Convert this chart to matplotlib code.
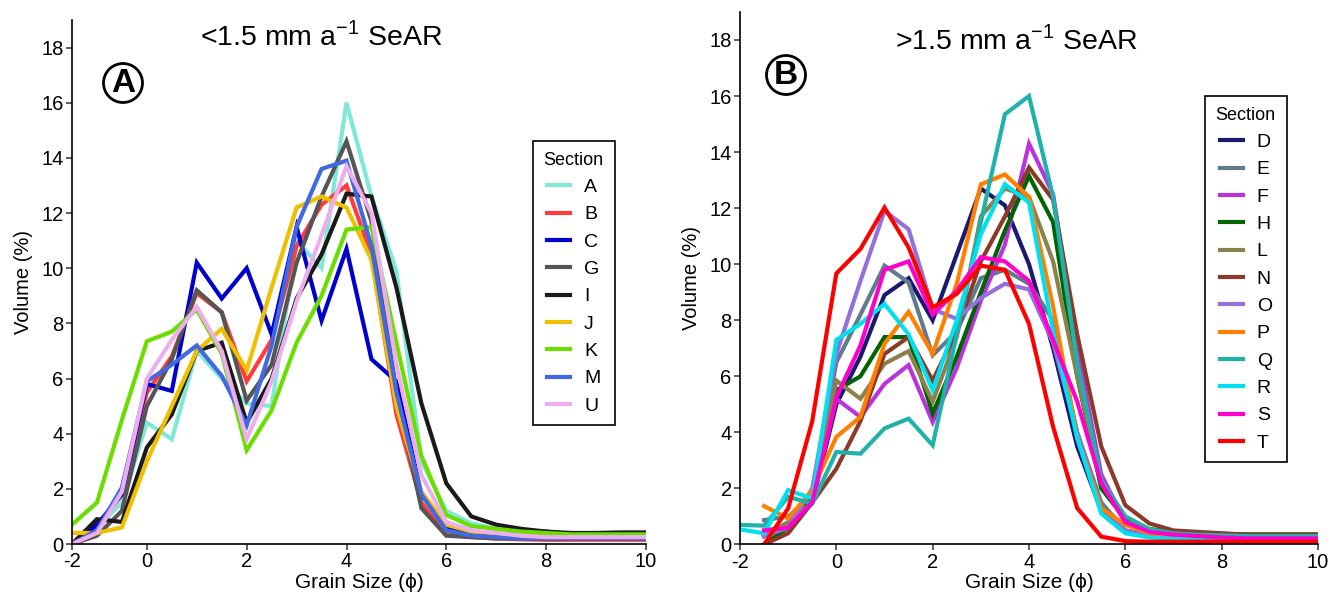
import numpy as np
import matplotlib.pyplot as plt

plt.rcParams['font.family'] = ['Liberation Sans', 'DejaVu Sans']
plt.rcParams['axes.unicode_minus'] = False

# grain size classes (phi)
x_a = np.arange(-1.5, 10.01, 0.5)
x_b = np.arange(-2.0, 10.01, 0.5)

# panel A: < 1.5 mm/a sections
sec_a = ['A', 'B', 'C', 'G', 'I', 'J', 'K', 'M', 'U']
col_a = ['#7FE8D8', '#FF3B3B', '#0000CD', '#555555', '#1A1A1A',
         '#EEC000', '#6CDD00', '#4169E1', '#EEAEEE']
vol_A = [0, 0.6, 1.5, 4.4, 3.8, 7.0, 6.0, 5.1, 5.0, 11.0, 10.0, 16.0,
         12.6, 9.9, 3.0, 1.2, 0.75, 0.55, 0.45, 0.38, 0.33, 0.3, 0.3, 0.3]
vol_B = [0, 0.6, 1.8, 5.5, 6.8, 9.1, 8.4, 5.9, 7.4, 10.8, 12.3, 13.0,
         10.5, 4.7, 1.5, 0.35, 0.25, 0.2, 0.17, 0.15, 0.15, 0.15, 0.15, 0.15]
vol_C = [0, 0.7, 1.8, 5.8, 5.55, 10.2, 8.9, 10.0, 7.6, 11.5, 8.1, 10.7,
         6.7, 5.9, 1.8, 0.6, 0.4, 0.35, 0.35, 0.45, 0.35, 0.4, 0.35, 0.35]
vol_G = [0, 0.3, 1.2, 5.0, 6.7, 9.2, 8.4, 5.2, 6.5, 10.2, 12.6, 14.6,
         11.7, 5.5, 1.3, 0.3, 0.25, 0.2, 0.2, 0.2, 0.2, 0.2, 0.2, 0.2]
vol_I = [0, 0.9, 0.8, 3.5, 4.7, 7.0, 7.3, 4.4, 6.0, 8.9, 10.5, 12.7,
         12.6, 9.3, 5.1, 2.2, 1.0, 0.7, 0.55, 0.45, 0.4, 0.4, 0.42, 0.42]
vol_J = [0.4, 0.4, 0.6, 3.0, 5.0, 7.0, 7.8, 6.3, 9.3, 12.2, 12.6, 12.2,
         10.3, 5.0, 1.9, 0.7, 0.45, 0.38, 0.33, 0.3, 0.3, 0.3, 0.3, 0.3]
vol_K = [0.7, 1.5, 4.5, 7.35, 7.7, 8.5, 6.9, 3.4, 4.85, 7.3, 9.0, 11.4,
         11.5, 7.3, 3.2, 1.05, 0.65, 0.55, 0.45, 0.4, 0.35, 0.35, 0.35, 0.35]
vol_M = [0, 0.5, 2.05, 5.9, 6.5, 7.2, 6.1, 4.3, 7.2, 11.5, 13.6, 13.9,
         10.8, 5.5, 1.8, 0.5, 0.3, 0.25, 0.2, 0.2, 0.2, 0.2, 0.2, 0.2]
vol_U = [0, 0.4, 1.9, 6.0, 7.4, 8.6, 7.0, 3.8, 5.9, 8.8, 11.2, 13.7,
         12.0, 6.5, 2.5, 0.8, 0.5, 0.4, 0.3, 0.25, 0.25, 0.25, 0.25, 0.25]
vols_a = [vol_A, vol_B, vol_C, vol_G, vol_I, vol_J, vol_K, vol_M, vol_U]

# panel B: > 1.5 mm/a sections
nan = np.nan
sec_b = ['D', 'E', 'F', 'H', 'L', 'N', 'O', 'P', 'Q', 'R', 'S', 'T']
col_b = ['#191970', '#607B8B', '#BB33DD', '#006400', '#8B814C', '#8B3A2A',
         '#9370DB', '#FF7F00', '#20B2AA', '#00E0EE', '#FF00CC', '#FF0000']
vol_D = [nan, 0.3, 0.6, 1.5, 5.0, 6.7, 8.9, 9.5, 8.0, 10.35, 12.7, 12.1,
         10.0, 7.0, 3.5, 1.2, 0.45, 0.3, 0.25, 0.22, 0.2, 0.2, 0.2, 0.2, 0.2]
vol_E = [nan, 0.87, 1.0, 1.7, 6.5, 8.2, 9.95, 9.35, 6.75, 7.6, 9.5, 9.8,
         9.3, 8.0, 4.0, 1.5, 0.5, 0.35, 0.3, 0.25, 0.25, 0.25, 0.25, 0.25, 0.25]
vol_F = [nan, 0.5, 0.6, 1.6, 5.2, 4.55, 5.73, 6.4, 4.37, 6.3, 8.7, 10.7,
         14.3, 12.5, 7.0, 2.5, 0.8, 0.45, 0.35, 0.3, 0.3, 0.3, 0.3, 0.3, 0.3]
vol_H = [nan, 0.0, 0.6, 1.8, 5.5, 6.0, 7.4, 7.4, 4.67, 6.7, 9.0, 11.2,
         13.15, 11.5, 6.0, 2.0, 0.9, 0.55, 0.45, 0.4, 0.38, 0.36, 0.36, 0.36, 0.36]
vol_L = [nan, 0.3, 0.8, 1.5, 5.85, 5.2, 6.45, 6.9, 5.1, 7.4, 11.7, 12.7,
         12.4, 10.1, 6.0, 2.2, 0.8, 0.5, 0.4, 0.35, 0.3, 0.3, 0.3, 0.3, 0.3]
vol_N = [nan, 0.0, 0.4, 1.5, 2.7, 4.4, 6.8, 7.4, 5.85, 7.6, 10.1, 11.7,
         13.45, 12.3, 7.5, 3.5, 1.4, 0.75, 0.5, 0.45, 0.4, 0.35, 0.35, 0.35, 0.35]
vol_O = [nan, 0.3, 0.6, 2.0, 6.8, 9.4, 11.9, 11.25, 8.4, 8.05, 8.8, 9.3,
         9.1, 7.2, 4.0, 1.3, 0.5, 0.3, 0.25, 0.2, 0.2, 0.2, 0.2, 0.2, 0.2]
vol_P = [nan, 1.37, 0.93, 1.94, 3.84, 4.55, 7.16, 8.3, 6.8, 9.3, 12.85, 13.2,
         12.4, 8.5, 3.8, 1.3, 0.7, 0.4, 0.3, 0.25, 0.25, 0.25, 0.25, 0.25, 0.25]
vol_Q = [0.7, 0.67, 1.7, 1.46, 3.3, 3.24, 4.14, 4.49, 3.54, 7.5, 11.5, 15.35,
         16.0, 12.4, 6.5, 2.3, 1.0, 0.55, 0.4, 0.35, 0.33, 0.3, 0.3, 0.3, 0.3]
vol_R = [0.54, 0.4, 1.94, 1.64, 7.3, 7.87, 8.58, 7.5, 5.5, 8.0, 11.07, 12.85,
         12.2, 7.6, 3.8, 1.1, 0.4, 0.25, 0.2, 0.18, 0.17, 0.17, 0.17, 0.17, 0.17]
vol_S = [nan, 0.5, 0.6, 1.5, 5.25, 7.1, 9.8, 10.1, 8.2, 9.05, 10.25, 10.1,
         9.4, 7.3, 5.1, 2.2, 0.8, 0.45, 0.35, 0.3, 0.25, 0.22, 0.22, 0.22, 0.22]
vol_T = [nan, 0.0, 1.29, 4.4, 9.67, 10.54, 12.02, 10.6, 8.46, 8.94, 9.95, 9.8,
         7.87, 4.2, 1.3, 0.28, 0.12, 0.1, 0.1, 0.1, 0.1, 0.1, 0.1, 0.1, 0.1]
vols_b = [vol_D, vol_E, vol_F, vol_H, vol_L, vol_N, vol_O, vol_P, vol_Q,
          vol_R, vol_S, vol_T]

fig = plt.figure(figsize=(13.43, 5.98), dpi=100)
ax1 = fig.add_axes([0.0536, 0.0903, 0.4274, 0.8763])
ax2 = fig.add_axes([0.551, 0.0895, 0.4304, 0.8905])

for name, c, v in zip(sec_a, col_a, vols_a):
    ax1.plot(x_a, v, color=c, lw=3.0, label=name, solid_joinstyle='miter')
for name, c, v in zip(sec_b, col_b, vols_b):
    ax2.plot(x_b, v, color=c, lw=3.0, label=name, solid_joinstyle='miter')

ax1.set_xlim(-1.5, 10)
ax1.set_xticks([-1.5, 0, 2, 4, 6, 8, 10])
ax1.set_xticklabels(['-2', '0', '2', '4', '6', '8', '10'])
ax2.set_xlim(-2, 10)
ax2.set_xticks([-2, 0, 2, 4, 6, 8, 10])

for ax in (ax1, ax2):
    ax.set_ylim(0, 19)
    ax.set_yticks(np.arange(0, 19, 2))
    for s in ('top', 'right'):
        ax.spines[s].set_visible(False)
    for s in ('left', 'bottom'):
        ax.spines[s].set_linewidth(1.2)
        ax.spines[s].set_color('black')
    ax.tick_params(labelsize=14.5, length=4, width=1.1, color='#333333',
                   labelcolor='black', pad=2)
    ax.set_xlabel('Grain Size (ϕ)', fontsize=15, labelpad=1)
    ax.set_ylabel('Volume (%)', fontsize=14.5, labelpad=6)

fig.text(0.239, 0.94, r'<1.5 mm a$^{\mathregular{-1}}$ SeAR', fontsize=20.5,
         ha='center', va='center')
fig.text(0.757, 0.933, r'>1.5 mm a$^{\mathregular{-1}}$ SeAR', fontsize=20.5,
         ha='center', va='center')

circ = dict(boxstyle='circle,pad=0.12', fc='white', ec='black', lw=2)
fig.text(123 / 1343, 1 - 83 / 598, 'A', fontsize=24, fontweight='bold',
         ha='center', va='center', bbox=circ)
fig.text(786 / 1343, 1 - 75 / 598, 'B', fontsize=24, fontweight='bold',
         ha='center', va='center', bbox=circ)

for ax, anchor in ((ax1, (533 / 1343, 1 - 141 / 598)),
                   (ax2, (1205 / 1343, 1 - 96 / 598))):
    leg = ax.legend(title='Section', loc='upper left', bbox_to_anchor=anchor,
                    bbox_transform=fig.transFigure, fontsize=14,
                    title_fontsize=13, fancybox=False, framealpha=1,
                    edgecolor='black', handlelength=1.2, handletextpad=0.7,
                    labelspacing=0.5, borderpad=0.55, borderaxespad=0)
    leg.get_frame().set_linewidth(1.2)

fig.savefig('out.png', dpi=100)
